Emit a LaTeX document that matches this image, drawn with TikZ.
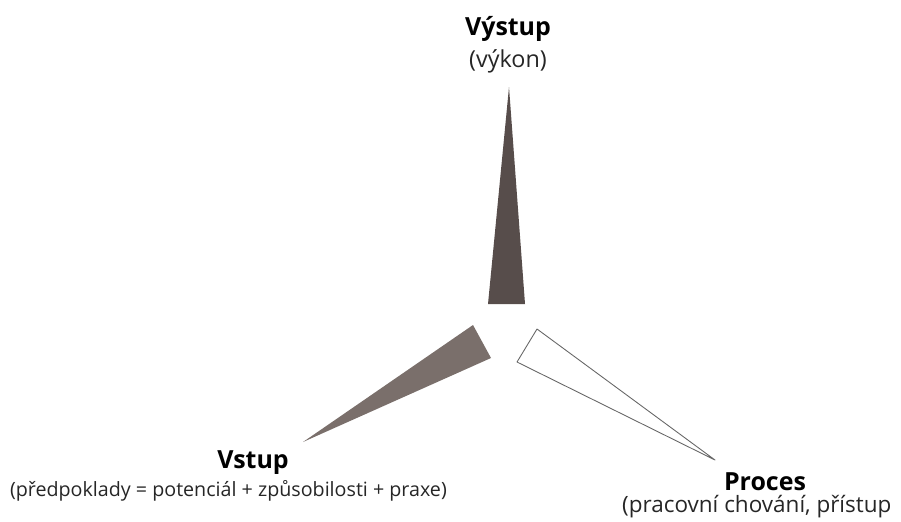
\documentclass[tikz,border=0pt]{standalone}
\usepackage{fontspec}
\setmainfont{Open Sans}
\usetikzlibrary{positioning}

\definecolor{wedgedark}{HTML}{574D4B}
\definecolor{wedgemid}{HTML}{7A6F6B}

\tikzset{
  title/.style={font=\fontsize{14.2}{16}\selectfont\bfseries, inner sep=0pt},
  subtitle/.style={font=\fontsize{#1}{14}\selectfont, inner sep=0pt, text=black!85},
  subtitle/.default=11.2,
}

\begin{document}
\begin{tikzpicture}[x=0.02cm, y=-0.02cm]

\useasboundingbox (0,0) rectangle (901,521);

% output
\coordinate (T1) at (509,87);
\coordinate (T2) at (488,304);
\coordinate (T3) at (525,304);
\fill[wedgedark] (T1)--(T2)--(T3)--cycle;

% input
\coordinate (L1) at (303,442);
\coordinate (L2) at (473,325);
\coordinate (L3) at (491,358);
\fill[wedgemid] (L1)--(L2)--(L3)--cycle;

% process
\coordinate (R1) at (715,460);
\coordinate (R2) at (537,329);
\coordinate (R3) at (517,362);
\draw[gray!80!black, line width=0.5pt, line join=round] (R1)--(R2)--(R3)--cycle;

\node[title] (vystup) at (508,29) {Výstup};
\node[subtitle=13.3, below=4pt of vystup] (vykon) {(výkon)};

\node[title] (vstup) at (253,463) {Vstup};
\node[subtitle, below=3pt of vstup, xshift=-14pt] (predpoklady) {(předpoklady = potenciál + způsobilosti + praxe)};

\node[title] (proces) at (765,482) {Proces};
\node[subtitle=12.8, anchor=north west] (chovani) at ([xshift=-58pt, yshift=-2pt]proces.south west) {(pracovní chování, přístup};

\end{tikzpicture}
\end{document}
